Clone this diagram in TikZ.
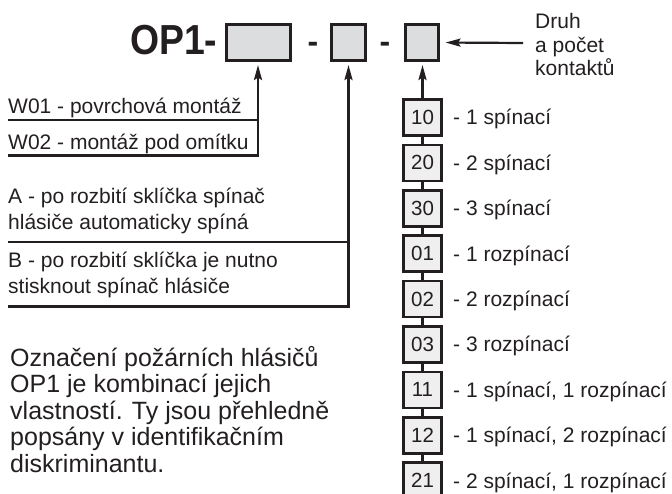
\documentclass[tikz,border=0pt]{standalone}
\usepackage{fontspec}
\usepackage{graphicx}
\setmainfont{Liberation Sans}
\usetikzlibrary{arrows.meta}
\definecolor{ink}{RGB}{35,31,32}
\definecolor{topfill}{RGB}{220,221,223}
\definecolor{smallfill}{RGB}{239,239,240}
\begin{document}
\begin{tikzpicture}[x=1pt,y=-1pt,
  every node/.style={text=ink},
  txt/.style={inner sep=0pt,anchor=base west,font=\fontsize{21}{25}\selectfont},
  para/.style={inner sep=0pt,anchor=base west,font=\fontsize{25}{27}\selectfont},
  topbox/.style={draw=ink,fill=topfill,line width=3pt,inner sep=0pt,minimum height=36pt},
  smallbox/.style={draw=ink,fill=smallfill,line width=2.6pt,inner sep=0pt,minimum width=38pt,minimum height=36pt,font=\fontsize{20.5}{24}\selectfont},
  conn/.style={draw=ink,line width=2.6pt},
  uline/.style={draw=ink,line width=2.4pt},
  arr/.style={-{Stealth[length=15pt,width=8pt,inset=2.5pt]}},
  sep/.style={inner sep=0pt,anchor=base,font=\fontsize{32}{32}\selectfont\bfseries},
]
\useasboundingbox (0,0) rectangle (672,494);

% header
\node[inner sep=0pt,anchor=base west,font=\fontsize{42}{42}\selectfont\bfseries] (op) at (130,55) {\scalebox{0.89}[1]{OP1-}};
\node[topbox,minimum width=64pt] (b1) at (258,42.5) {};
\node[sep] (d1) at (313,52.2) {-};
\node[topbox,minimum width=34pt] (b2) at (348.5,42.5) {};
\node[sep] (d2) at (385,52.2) {-};
\node[topbox,minimum width=33pt] (b3) at (421.5,42.5) {};

% Druh a pocet kontaktu
\node[txt] (dr1) at (535,28.3) {Druh};
\node[txt] (dr2) at (535,52.3) {a počet};
\node[txt] (dr3) at (535,76) {kontaktů};
\coordinate (dra) at (523,43);
\draw[conn,line width=2.2pt,arr,shorten >=6pt] (dra) -- (b3.east);

% left options
\node[txt] (w01) at (8,113.3) {W01 - povrchová montáž};
\node[txt] (w02) at (8,149.3) {W02 - montáž pod omítku};
\node[txt] (a1) at (8,203.3) {A - po rozbití sklíčka spínač};
\node[txt] (a2) at (8,229.3) {hlásiče automaticky spíná};
\node[txt] (bb1) at (8,267.3) {B - po rozbití sklíčka je nutno};
\node[txt] (bb2) at (8,293.3) {stisknout spínač hlásiče};

\coordinate (u1a) at (8,120);   \coordinate (u1b) at (259.2,120);
\coordinate (u2a) at (8,155.5); \coordinate (u2b) at (259.2,155.5);
\coordinate (u3a) at (8,242);   \coordinate (u3b) at (349.7,242);
\coordinate (u4a) at (8,306.5); \coordinate (u4b) at (349.7,306.5);
\draw[uline] (u1a) -- (u1b);
\draw[uline] (u2a) -- (u2b);
\draw[uline] (u3a) -- (u3b);
\draw[uline] (u4a) -- (u4b);

\coordinate (j1) at (258,156.7);
\coordinate (j2) at (348.5,307.7);
\draw[conn,arr,shorten >=3pt] (j1) -- (b1.south);
\draw[conn,arr,shorten >=3pt] (j2) -- (b2.south);

% contact codes
\foreach \n/\t [count=\k] in {10/{- 1 spínací},20/{- 2 spínací},30/{- 3 spínací},01/{- 1 rozpínací},02/{- 2 rozpínací},03/{- 3 rozpínací},11/{- 1 spínací, 1 rozpínací},12/{- 1 spínací, 2 rozpínací},21/{- 2 spínací, 1 rozpínací}}{
  \pgfmathsetmacro\cy{117.5+45.4*(\k-1)}
  \node[smallbox] (c\n) at (422.5,\cy) {\n};
  \node[txt] (l\n) at (453,\cy+7.5) {\t};
}
\foreach \a/\b in {10/20,20/30,30/01,01/02,02/03,03/11,11/12,12/21}{
  \draw[conn,line width=2.2pt] (c\a.south) -- (c\b.north);
}
\draw[conn,arr,shorten >=3pt] (c10.north) -- (c10.north |- b3.south);

% paragraph
\node[para] (p1) at (10,366) {Označení požárních hlásičů};
\node[para] (p2) at (10,392.5) {OP1 je kombinací jejich};
\node[para] (p3) at (10,419) {vlastností. Ty jsou přehledně};
\node[para] (p4) at (10,445.5) {popsány v identifikačním};
\node[para] (p5) at (10,472) {diskriminantu.};
\end{tikzpicture}
\end{document}
